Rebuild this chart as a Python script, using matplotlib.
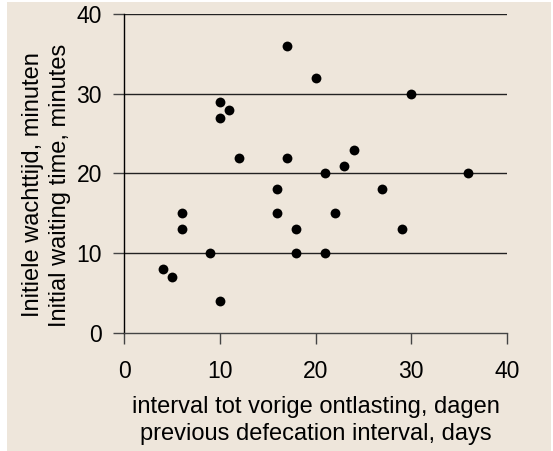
import matplotlib
matplotlib.use("Agg")
import matplotlib.pyplot as plt
from matplotlib.patches import Rectangle

# interval tot vorige ontlasting (dagen) vs initiele wachttijd (minuten)
interval_days = [4, 5, 6, 6, 9, 10, 10, 10, 11, 12, 16, 16, 17, 17, 18, 18,
                 20, 21, 21, 22, 23, 24, 27, 29, 30, 36]
wait_minutes = [8, 7, 15, 13, 10, 29, 27, 4, 28, 22, 18, 15, 36, 22, 13, 10,
                32, 20, 10, 15, 21, 23, 18, 13, 30, 20]

x_ticks = [0, 10, 20, 30, 40]
y_ticks = [0, 10, 20, 30, 40]
x_label = "interval tot vorige ontlasting, dagen\nprevious defecation interval, days"
y_label = "Initiele wachttijd, minuten\nInitial waiting time, minutes"

bg = "#eee6db"
plt.rcParams['font.family'] = ['Liberation Sans', 'DejaVu Sans']

fig = plt.figure(figsize=(5.53, 4.51), dpi=100)
fig.patches.append(Rectangle((7 / 553, 0), 544 / 553, 449 / 451,
                             transform=fig.transFigure, facecolor=bg,
                             edgecolor='none', zorder=-10))
ax = fig.add_axes([0.2248, 0.2623, 0.6915, 0.7060])
ax.set_facecolor('none')

# gridlines
for yv in y_ticks[1:]:
    ax.axhline(yv, color='#222222', lw=1.0, zorder=1)

ax.scatter(interval_days, wait_minutes, s=50, color='black', zorder=3,
           linewidths=0, clip_on=False)

ax.set_xlim(0, 40)
ax.set_ylim(0, 40)
ax.set_xticks(x_ticks)
ax.set_yticks(y_ticks)

for side in ['top', 'right']:
    ax.spines[side].set_visible(False)
ax.spines['left'].set_color('black')
ax.spines['bottom'].set_color('#444444')
ax.spines['left'].set_linewidth(1.0)
ax.spines['bottom'].set_linewidth(1.0)

ax.tick_params(axis='both', direction='out', length=8, width=1.0,
               labelsize=16.5, color='#444444')
ax.tick_params(axis='x', pad=12)
ax.tick_params(axis='y', pad=8)

ax.set_xlabel(x_label, fontsize=17, labelpad=9, linespacing=1.3)
ax.set_ylabel(y_label, fontsize=17, labelpad=4, linespacing=1.3)
# het y-label staat in het origineel iets lager dan het midden
ax.yaxis.label.set_y(0.464)

fig.savefig("out.png", dpi=100, facecolor='white')
